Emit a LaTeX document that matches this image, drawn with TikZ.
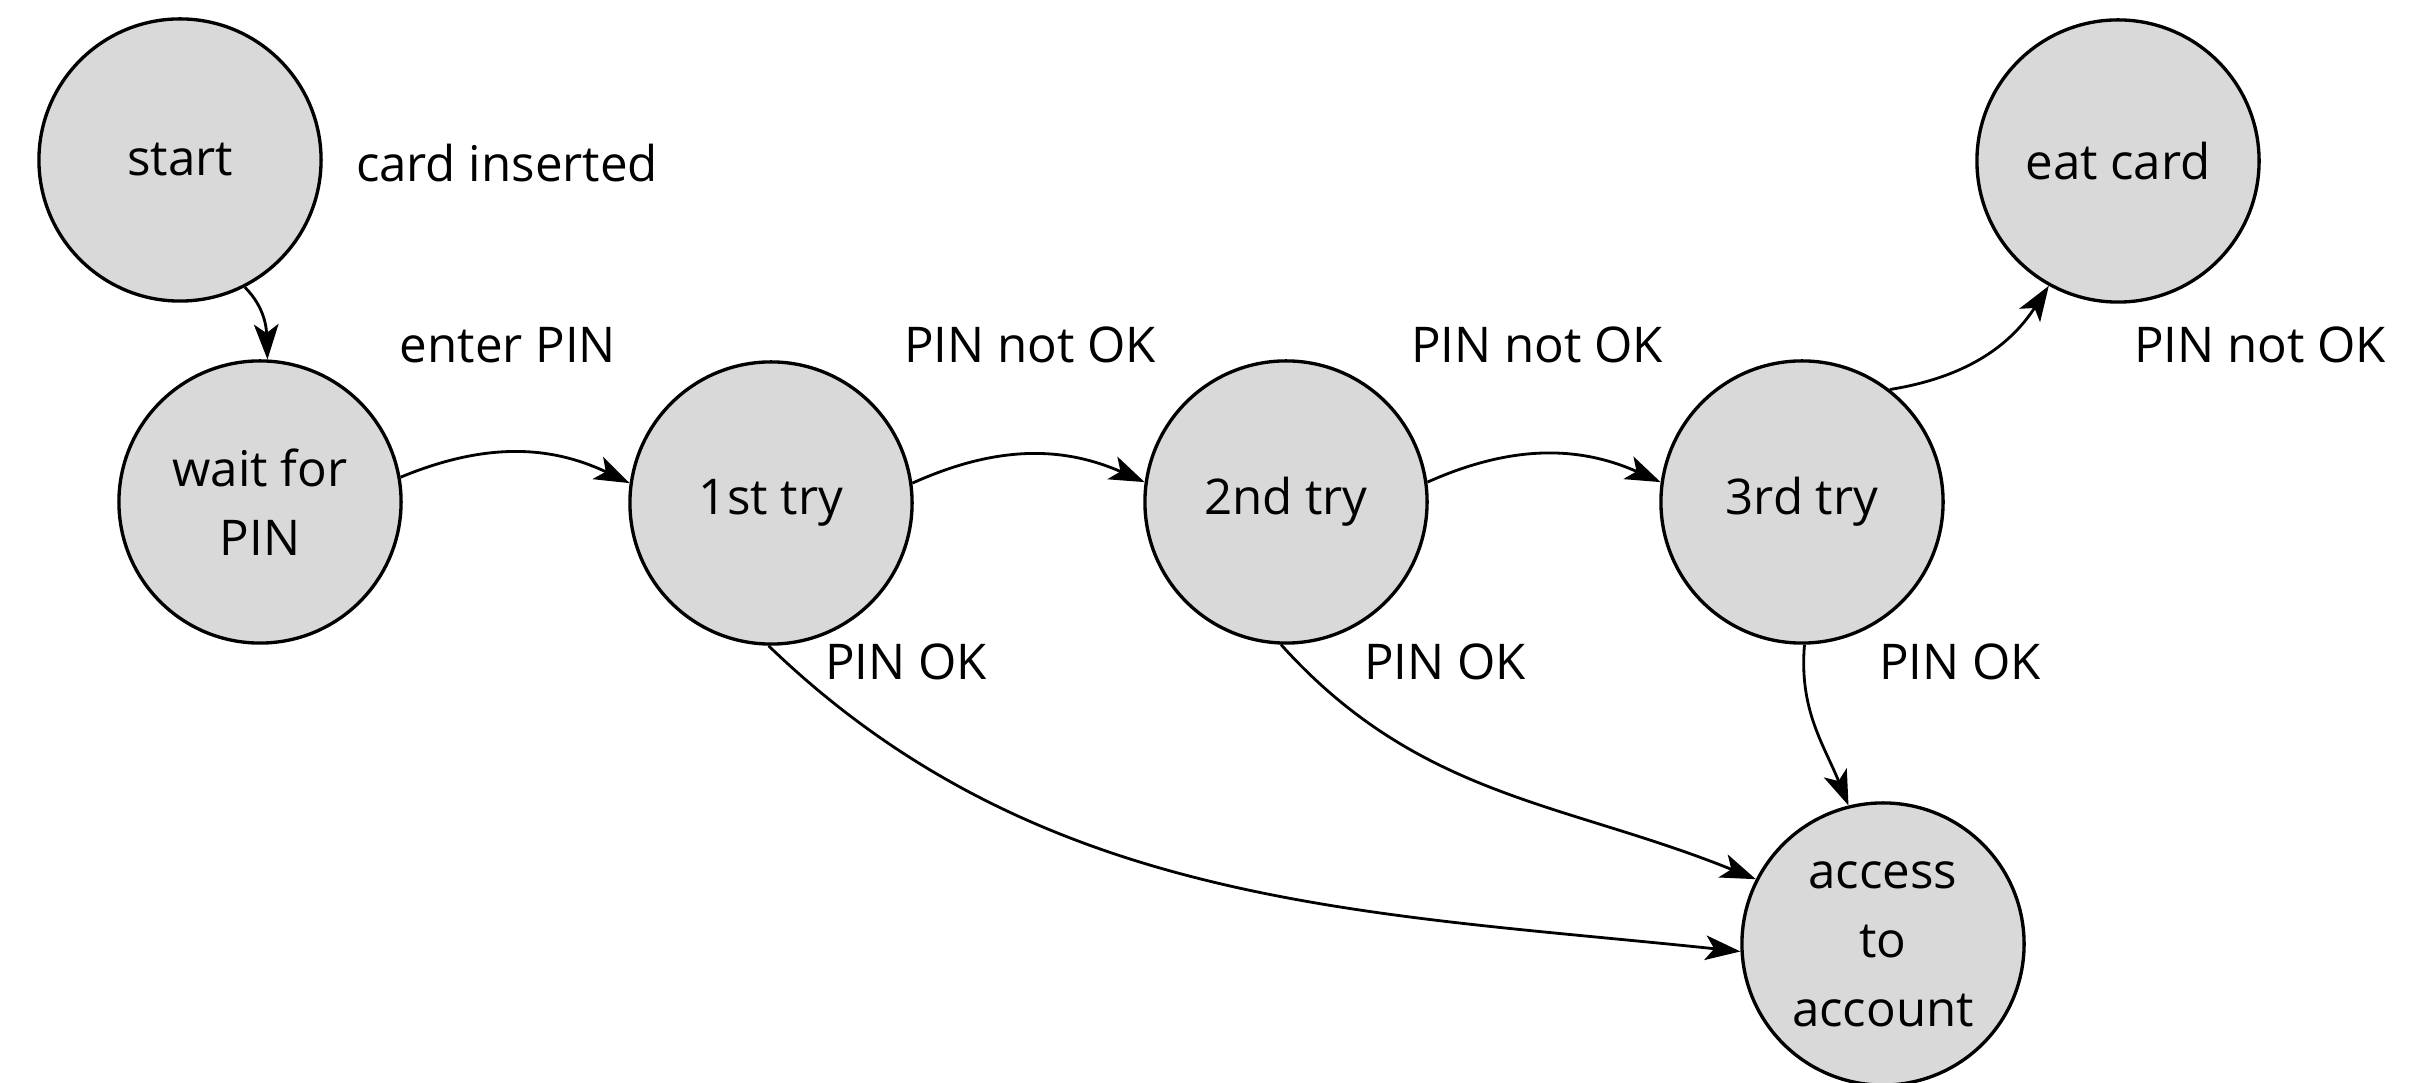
\documentclass[tikz,border=0pt]{standalone}
\usepackage{fontspec}
\setmainfont{Open Sans}
\usetikzlibrary{arrows.meta}
\begin{document}
\begin{tikzpicture}[x=0.01cm,y=-0.01cm,
  state/.style={circle,draw=black,line width=0.95pt,fill=black!15,minimum size=2.82cm,inner sep=0pt,align=center,
    font=\fontsize{14}{19.6}\selectfont},
  lbl/.style={anchor=base,inner sep=0pt,font=\fontsize{14}{19.6}\selectfont},
  trans/.style={line width=0.8pt,-{Stealth[length=10pt,width=7pt,inset=2.5pt]}}]
\useasboundingbox (0,0) rectangle (2433,1083);
\node[state] (start)  at (180,160)  {start};
\node[state] (wait)   at (260,502)  {wait for\\PIN};
\node[state] (try1)   at (771,503)  {1st try};
\node[state] (try2)   at (1286,502) {2nd try};
\node[state] (try3)   at (1802,502) {3rd try};
\node[state] (eat)    at (2118,161) {eat card};
\node[state] (access) at (1883,944) {access\\to\\account};

\node[lbl] (l1) at (507,182)  {card inserted};
\node[lbl] (l2) at (508,363)  {enter PIN};
\node[lbl] (l3) at (1030,363) {PIN not OK};
\node[lbl] (l4) at (1537,363) {PIN not OK};
\node[lbl] (l5) at (2260,363) {PIN not OK};
\node[lbl] (l6) at (906,680)  {PIN OK};
\node[lbl] (l7) at (1445,680) {PIN OK};
\node[lbl] (l8) at (1960,680) {PIN OK};

\draw[trans] (start.-63) to[out=-45,in=92] (wait.87);
\draw[trans] (wait.10) to[bend left=24] (try1.172);
\draw[trans] (try1.8) to[bend left=24] (try2.172);
\draw[trans] (try2.8) to[bend left=24] (try3.172);
\draw[trans] (try3.52) to[bend right=24] (eat.241);
\draw[trans] (try1.-91) to[out=-44,in=174,looseness=0.95] (access.183);
\draw[trans] (try2.-92) to[out=-48,in=158] (access.153);
\draw[trans] (try3.-89) to[out=-95,in=112] (access.104);
\end{tikzpicture}
\end{document}
